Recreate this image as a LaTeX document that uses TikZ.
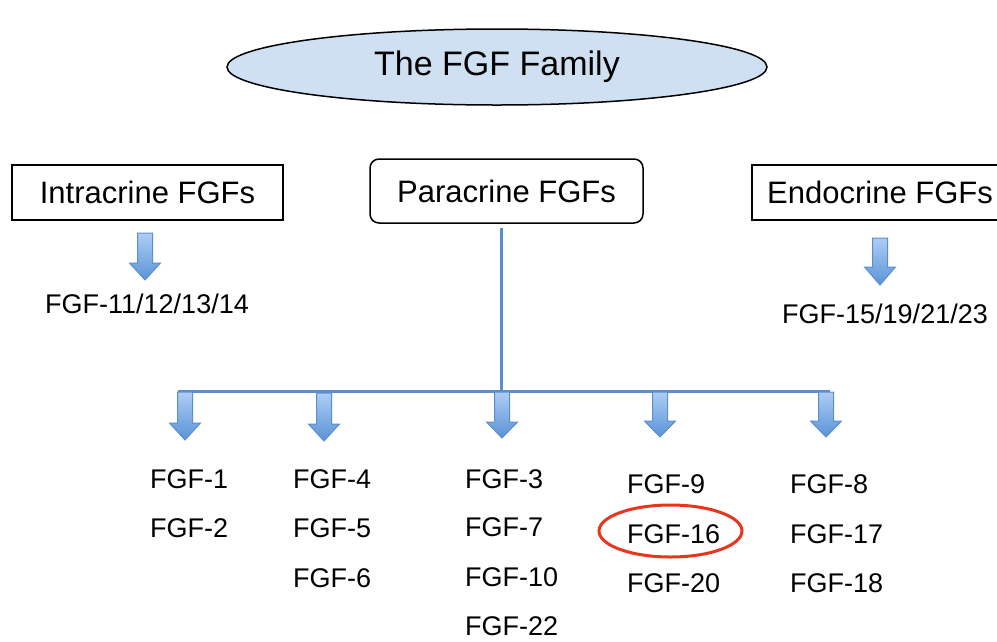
\documentclass[tikz,border=0pt]{standalone}
\usepackage{fontspec}
\setmainfont{Liberation Sans}
\usetikzlibrary{shapes.geometric}
\definecolor{famfill}{HTML}{CFE0F3}
\definecolor{linkblue}{HTML}{5B8FCB}
\definecolor{arrtop}{HTML}{AECDF5}
\definecolor{arrbot}{HTML}{5A93D6}
\definecolor{hlred}{HTML}{E8361E}
\newcommand{\fgfarrow}[4]{% x, top, headstart, tip
  \shade[top color=arrtop, bottom color=arrbot, draw=linkblue, line width=1pt]
    (#1-7.5,#2) -- (#1+7.5,#2) -- (#1+7.5,#3) -- (#1+15.5,#3) -- (#1,#4)
    -- (#1-15.5,#3) -- (#1-7.5,#3) -- cycle;}
\begin{document}
\begin{tikzpicture}[x=1pt,y=-1pt,
  boxtext/.style={font=\fontsize{31}{36}\selectfont, inner sep=0pt},
  titletext/.style={font=\fontsize{34}{40}\selectfont, inner sep=0pt},
  famlabel/.style={font=\fontsize{27}{32}\selectfont, anchor=base west, inner sep=0pt},
  grouplabel/.style={font=\fontsize{27}{32}\selectfont, anchor=base, inner sep=0pt},
  catbox/.style={draw=black, line width=1.5pt, boxtext},
  link/.style={draw=linkblue, line width=3pt}]
\useasboundingbox (0,0) rectangle (997,641);
\clip (0,0) rectangle (997,641);
% title
\node[ellipse, draw=black, line width=1.5pt, fill=famfill, minimum width=540, minimum height=76, inner sep=0pt] (fam) at (497,67) {};
\node[titletext] (famtext) at (497,67) {The FGF Family};
% category boxes
\draw[catbox] (12,165) rectangle (283,220);
\node[boxtext] (intra) at (147.5,192.5) {Intracrine FGFs};
\draw[catbox, rounded corners=9pt] (370,159) rectangle (643,223);
\node[boxtext] (para) at (506.5,191) {Paracrine FGFs};
\draw[catbox] (752,165) rectangle (1010,220);
\node[boxtext, anchor=west] (endo) at (767,192.5) {Endocrine FGFs};
% side arrows and labels
\fgfarrow{145}{233}{263}{280}
\node[grouplabel] (intralab) at (147,313) {FGF-11/12/13/14};
\fgfarrow{880}{238}{267}{285}
\node[grouplabel] (endolab) at (885,323) {FGF-15/19/21/23};
% paracrine tree
\coordinate (vtop) at (501,228);
\coordinate (hub) at (501,391);
\coordinate (hl) at (178,391);
\coordinate (hr) at (830,391);
\draw[link] (vtop) -- (hub);
\draw[link] (hl) -- (hr);
\fgfarrow{185}{392}{423}{440}
\fgfarrow{324}{393}{424}{441}
\fgfarrow{502}{392}{422}{438}
\fgfarrow{660}{392}{421}{437}
\fgfarrow{826}{392}{421}{437}
% members
\node[famlabel] (f1) at (150,488) {FGF-1};
\node[famlabel] (f2) at (150,537) {FGF-2};
\node[famlabel] (f4) at (293,488) {FGF-4};
\node[famlabel] (f5) at (293,537) {FGF-5};
\node[famlabel] (f6) at (293,587) {FGF-6};
\node[famlabel] (f3) at (465,488) {FGF-3};
\node[famlabel] (f7) at (465,536) {FGF-7};
\node[famlabel] (f10) at (465,586) {FGF-10};
\node[famlabel] (f22) at (465,635) {FGF-22};
\node[famlabel] (f9) at (627,493) {FGF-9};
\node[famlabel] (f16) at (627,543) {FGF-16};
\node[famlabel] (f20) at (627,592) {FGF-20};
\node[famlabel] (f8) at (790,493) {FGF-8};
\node[famlabel] (f17) at (790,543) {FGF-17};
\node[famlabel] (f18) at (790,592) {FGF-18};
% highlight
\node[ellipse, draw=hlred, line width=3pt, minimum width=143, minimum height=52, inner sep=0pt] (hl16) at (670.5,531) {};
\end{tikzpicture}
\end{document}
